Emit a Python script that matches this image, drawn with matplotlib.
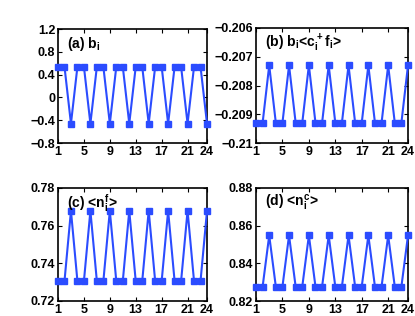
import numpy as np
import matplotlib
matplotlib.use("Agg")
import matplotlib.pyplot as plt

plt.rcParams["font.family"] = ["Liberation Sans", "DejaVu Sans"]
plt.rcParams["font.weight"] = "bold"
plt.rcParams["mathtext.fontset"] = "custom"
plt.rcParams["mathtext.bf"] = "Liberation Sans:bold"
plt.rcParams["mathtext.rm"] = "Liberation Sans:bold"
plt.rcParams["mathtext.default"] = "bf"

# site index 1..24, pattern repeats every 3 sites
sites = np.arange(1, 25)
b_i = [0.54, 0.54, -0.46] * 8
bcf = [-0.2093, -0.2093, -0.2073] * 8
nf = [0.7305, 0.7305, 0.7679] * 8
nc = [0.8276, 0.8276, 0.8548] * 8

xticks = [1, 5, 9, 13, 17, 21, 24]

panels = [
    (b_i, r"(a) $b_i$", (-0.8, 1.2), [-0.8, -0.4, 0, 0.4, 0.8, 1.2],
     ["\u22120.8", "\u22120.4", "0", "0.4", "0.8", "1.2"]),
    (bcf, r"(b) $b_i$<$c_i^+f_i$>", (-0.21, -0.206),
     [-0.21, -0.209, -0.208, -0.207, -0.206],
     ["\u22120.21", "\u22120.209", "\u22120.208", "\u22120.207", "\u22120.206"]),
    (nf, r"(c) <$n_i^f$>", (0.72, 0.78), [0.72, 0.74, 0.76, 0.78],
     ["0.72", "0.74", "0.76", "0.78"]),
    (nc, r"(d) <$n_i^c$>", (0.82, 0.88), [0.82, 0.84, 0.86, 0.88],
     ["0.82", "0.84", "0.86", "0.88"]),
]

# axes boxes in pixels (left, top, right, bottom)
boxes = [(58, 29, 207, 143), (256, 28, 408, 143),
         (58, 188, 207, 301), (256, 188, 408, 301)]

W, H = 415, 316
fig = plt.figure(figsize=(W / 100, H / 100), dpi=100)

for (vals, label, ylim, yt, ytl), (l, t, r, b) in zip(panels, boxes):
    ax = fig.add_axes([l / W, 1 - b / H, (r - l) / W, (b - t) / H])
    ax.plot(sites, vals, color="#2b4cff", lw=1.5, marker="s", ms=5,
            clip_on=False, zorder=3)
    ax.set_xlim(1, 24)
    ax.set_ylim(*ylim)
    ax.set_xticks(xticks)
    ax.set_yticks(yt)
    ax.set_yticklabels(ytl)
    ax.tick_params(direction="in", top=True, right=True, labelsize=9,
                   length=3, width=0.8, pad=2)
    for s in ax.spines.values():
        s.set_linewidth(1.2)
    ax.text(0.06, 0.87, label, transform=ax.transAxes, fontsize=10,
            fontweight="bold", va="center", ha="left")

fig.savefig("out.png", dpi=100)
